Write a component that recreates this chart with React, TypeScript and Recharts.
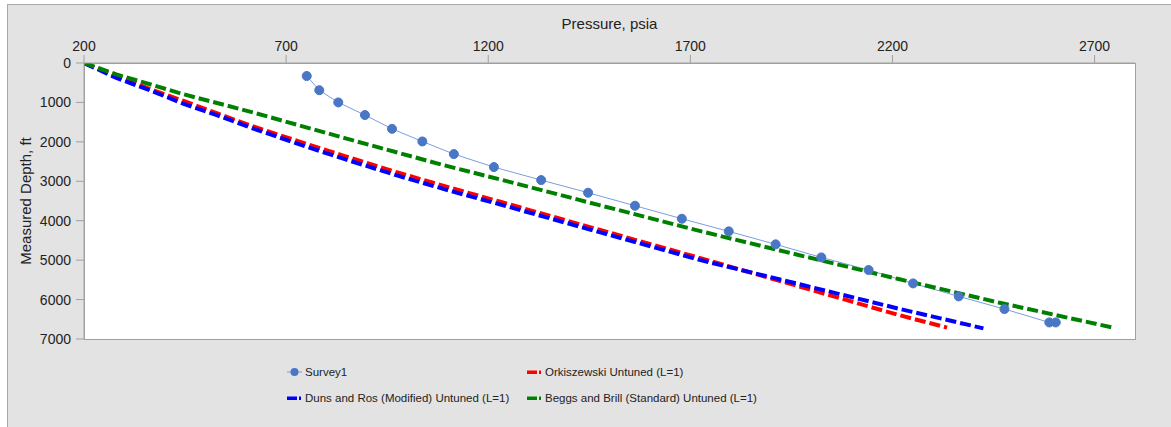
import { LineChart, Line, XAxis, YAxis } from 'recharts';

// Survey1 measurements
const surveyPressure = [751, 782, 829, 895, 962, 1037, 1115, 1214, 1331, 1447, 1563, 1679, 1795, 1911, 2024, 2141, 2251, 2364, 2477, 2588, 2604];
const surveyDepth = [330, 690, 1000, 1320, 1670, 1990, 2310, 2640, 2970, 3290, 3620, 3950, 4270, 4600, 4930, 5250, 5590, 5920, 6240, 6580, 6580];

// Orkiszewski Untuned (L=1)
const orkPressure = [200, 280, 360, 450, 530, 610, 735, 845, 980, 1105, 1230, 1475, 1725, 1970, 2215, 2335];
const orkDepth = [0, 330, 650, 975, 1280, 1580, 2000, 2360, 2790, 3160, 3520, 4230, 4950, 5670, 6390, 6710];

// Duns and Ros (Modified) Untuned (L=1)
const dunsPressure = [200, 280, 365, 445, 530, 615, 735, 845, 980, 1105, 1230, 1475, 1725, 1970, 2215, 2425];
const dunsDepth = [0, 380, 700, 1030, 1330, 1650, 2070, 2440, 2870, 3240, 3590, 4290, 5000, 5610, 6230, 6730];

// Beggs and Brill (Standard) Untuned (L=1)
const beggsPressure = [200, 280, 365, 445, 615, 845, 1080, 1230, 1475, 1725, 1970, 2215, 2465, 2745];
const beggsDepth = [0, 290, 545, 790, 1245, 1905, 2565, 2955, 3605, 4265, 4875, 5480, 6080, 6710];

const pressureTicks = [200, 700, 1200, 1700, 2200, 2700];
const depthTicks = [0, 1000, 2000, 3000, 4000, 5000, 6000, 7000];

const toPoints = (p: number[], d: number[]) => p.map((v, i) => ({ p: v, d: d[i] }));

const survey = toPoints(surveyPressure, surveyDepth);
const ork = toPoints(orkPressure, orkDepth);
const duns = toPoints(dunsPressure, dunsDepth);
const beggs = toPoints(beggsPressure, beggsDepth);

const FONT = '"Liberation Sans", Arial, sans-serif';
const AXIS = '#a0a0a0';
const SURVEY_LINE = '#7b9ee0';
const SURVEY_DOT = '#4a76c6';
const DASH = '11 4';

function LegendItem({ left, top, color, label, marker }: { left: number; top: number; color: string; label: string; marker?: boolean }) {
  return (
    <div style={{ position: 'absolute', left, top, height: 14, display: 'flex', alignItems: 'center' }}>
      <svg width={16} height={12} style={{ marginRight: 2 }}>
        {marker ? (
          <>
            <line x1={0} y1={6} x2={15} y2={6} stroke={SURVEY_LINE} strokeWidth={1} />
            <circle cx={7.5} cy={6} r={4} fill={SURVEY_DOT} />
          </>
        ) : (
          <>
            <rect x={0} y={4.5} width={10} height={3.5} fill={color} />
            <rect x={12} y={4.5} width={2} height={3.5} fill={color} />
          </>
        )}
      </svg>
      <span style={{ fontFamily: FONT, fontSize: 11.5, color: '#222', whiteSpace: 'nowrap' }}>{label}</span>
    </div>
  );
}

export default function App() {
  return (
    <div style={{ position: 'absolute', left: 0, top: 0, width: 1171, height: 427, background: '#fff', overflow: 'hidden' }}>
      <div
        style={{
          position: 'absolute',
          left: 7,
          top: 4,
          width: 1180,
          height: 440,
          background: '#e3e3e3',
          border: '1px solid #a8a8a8',
        }}
      />
      <div
        style={{
          position: 'absolute',
          left: 84,
          top: 63,
          width: 1050,
          height: 275,
          background: '#fff',
          border: `1px solid ${AXIS}`,
        }}
      />
      <div style={{ position: 'absolute', left: 0, top: 0 }}>
        <LineChart width={1171} height={427} margin={{ top: 33, right: 36, bottom: 88, left: 0 }}>
          <XAxis
            type="number"
            dataKey="p"
            orientation="top"
            domain={[200, 2800]}
            ticks={pressureTicks}
            allowDataOverflow
            height={30}
            tickSize={8}
            tickMargin={4}
            axisLine={{ stroke: AXIS }}
            tickLine={{ stroke: AXIS }}
            tick={{ fill: '#222', fontSize: 14, fontFamily: FONT }}
            label={{ value: 'Pressure, psia', position: 'top', offset: 4, fill: '#222', fontSize: 15, fontFamily: FONT }}
          />
          <YAxis
            type="number"
            dataKey="d"
            reversed
            domain={[0, 7000]}
            ticks={depthTicks}
            allowDataOverflow
            width={84}
            tickSize={8}
            tickMargin={5}
            axisLine={{ stroke: AXIS }}
            tickLine={{ stroke: AXIS }}
            tick={{ fill: '#222', fontSize: 14, fontFamily: FONT }}
            label={{
              value: 'Measured Depth, ft',
              angle: -90,
              position: 'insideLeft',
              offset: 26,
              fill: '#222',
              fontSize: 15,
              fontFamily: FONT,
              style: { textAnchor: 'middle' },
            }}
          />
          <Line
            data={survey}
            dataKey="d"
            name="Survey1"
            type="linear"
            stroke={SURVEY_LINE}
            strokeWidth={1}
            dot={{ r: 4.5, fill: SURVEY_DOT, stroke: SURVEY_DOT, strokeWidth: 1 }}
            isAnimationActive={false}
          />
          <Line
            data={ork}
            dataKey="d"
            name="Orkiszewski Untuned (L=1)"
            type="linear"
            stroke="#ff0000"
            strokeWidth={4}
            strokeDasharray={DASH}
            dot={false}
            isAnimationActive={false}
          />
          <Line
            data={duns}
            dataKey="d"
            name="Duns and Ros (Modified) Untuned (L=1)"
            type="linear"
            stroke="#0000ff"
            strokeWidth={4}
            strokeDasharray={DASH}
            dot={false}
            isAnimationActive={false}
          />
          <Line
            data={beggs}
            dataKey="d"
            name="Beggs and Brill (Standard) Untuned (L=1)"
            type="linear"
            stroke="#008000"
            strokeWidth={4}
            strokeDasharray={DASH}
            dot={false}
            isAnimationActive={false}
          />
        </LineChart>
      </div>
      <LegendItem left={287} top={365} color={SURVEY_DOT} label="Survey1" marker />
      <LegendItem left={527} top={365} color="#ff0000" label="Orkiszewski Untuned (L=1)" />
      <LegendItem left={287} top={391} color="#0000ff" label="Duns and Ros (Modified) Untuned (L=1)" />
      <LegendItem left={527} top={391} color="#008000" label="Beggs and Brill (Standard) Untuned (L=1)" />
    </div>
  );
}
